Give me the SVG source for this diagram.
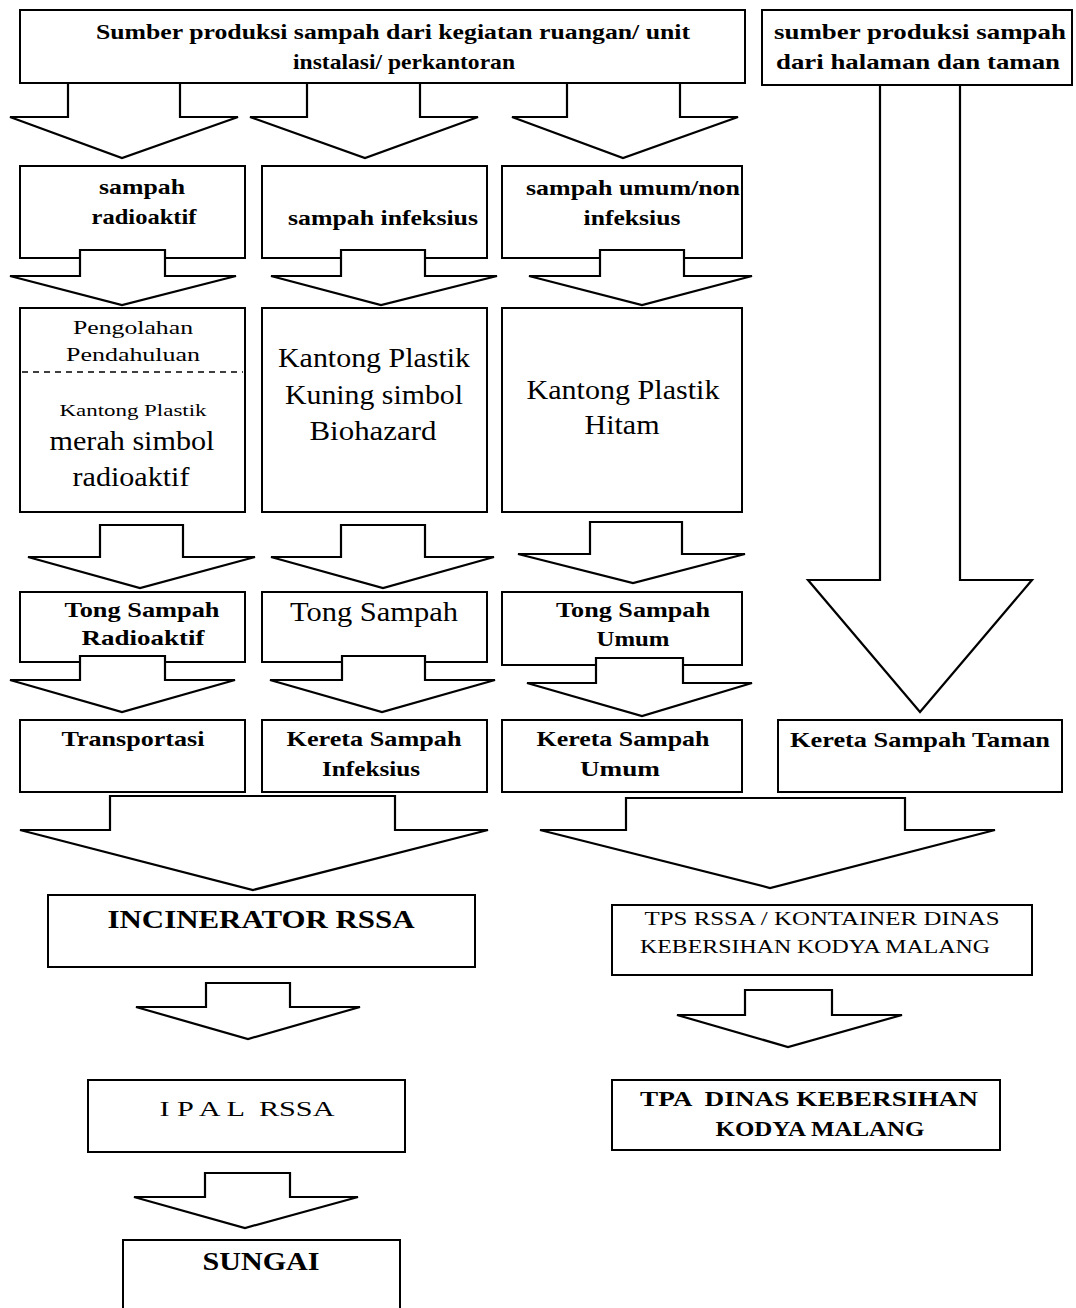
<svg xmlns="http://www.w3.org/2000/svg" width="1076" height="1308" viewBox="0 0 1076 1308">
<style>
.bg{fill:#fff}
.box{fill:#fff;stroke:#000;stroke-width:2}
.arr{fill:#fff;stroke:#000;stroke-width:2.2;stroke-linejoin:miter}
text{font-family:"Liberation Serif","Times New Roman",serif;fill:#000;text-anchor:middle}
.b{font-weight:bold}
</style>
<rect class="bg" x="0" y="0" width="1076" height="1308"/>
<g id="src-unit"><rect class="box" x="20" y="10" width="725" height="73"/>
<text class="b" x="393" y="39" font-size="22" textLength="594" lengthAdjust="spacingAndGlyphs">Sumber produksi sampah dari kegiatan ruangan/ unit</text>
<text class="b" x="404" y="69" font-size="22" textLength="222" lengthAdjust="spacingAndGlyphs">instalasi/ perkantoran</text></g>
<g id="src-taman"><rect class="box" x="762" y="10" width="310" height="75"/>
<text class="b" x="920" y="39" font-size="22" textLength="292" lengthAdjust="spacingAndGlyphs">sumber produksi sampah</text>
<text class="b" x="918" y="69" font-size="22" textLength="284" lengthAdjust="spacingAndGlyphs">dari halaman dan taman</text></g>
<g id="radioaktif"><rect class="box" x="20" y="166" width="225" height="92"/>
<text class="b" x="142" y="194" font-size="21" textLength="86" lengthAdjust="spacingAndGlyphs">sampah</text>
<text class="b" x="144" y="224" font-size="21" textLength="105" lengthAdjust="spacingAndGlyphs">radioaktif</text></g>
<g id="infeksius"><rect class="box" x="262" y="166" width="225" height="92"/>
<text class="b" x="383" y="225" font-size="21" textLength="190" lengthAdjust="spacingAndGlyphs">sampah infeksius</text></g>
<g id="umum"><rect class="box" x="502" y="166" width="240" height="92"/>
<text class="b" x="633" y="195" font-size="21" textLength="214" lengthAdjust="spacingAndGlyphs">sampah umum/non</text>
<text class="b" x="632" y="225" font-size="21" textLength="97" lengthAdjust="spacingAndGlyphs">infeksius</text></g>
<g id="kantong-merah"><rect class="box" x="20" y="308" width="225" height="204"/>
<text x="133" y="334" font-size="19" textLength="120" lengthAdjust="spacingAndGlyphs">Pengolahan</text>
<text x="133" y="361" font-size="19" textLength="134" lengthAdjust="spacingAndGlyphs">Pendahuluan</text>
<line x1="22" y1="372" x2="243" y2="372" stroke="#000" stroke-width="1.5" stroke-dasharray="6 5"/>
<text x="133" y="416" font-size="16" textLength="147" lengthAdjust="spacingAndGlyphs">Kantong Plastik</text>
<text x="132" y="450" font-size="27" textLength="165" lengthAdjust="spacingAndGlyphs">merah simbol</text>
<text x="131" y="486" font-size="27" textLength="117" lengthAdjust="spacingAndGlyphs">radioaktif</text></g>
<g id="kantong-kuning"><rect class="box" x="262" y="308" width="225" height="204"/>
<text x="374" y="367" font-size="27" textLength="192" lengthAdjust="spacingAndGlyphs">Kantong Plastik</text>
<text x="374" y="404" font-size="27" textLength="178" lengthAdjust="spacingAndGlyphs">Kuning simbol</text>
<text x="373" y="440" font-size="27" textLength="127" lengthAdjust="spacingAndGlyphs">Biohazard</text></g>
<g id="kantong-hitam"><rect class="box" x="502" y="308" width="240" height="204"/>
<text x="623" y="399" font-size="27" textLength="193" lengthAdjust="spacingAndGlyphs">Kantong Plastik</text>
<text x="622" y="434" font-size="27" textLength="75" lengthAdjust="spacingAndGlyphs">Hitam</text></g>
<g id="tong-radioaktif"><rect class="box" x="20" y="592" width="225" height="70"/>
<text class="b" x="142" y="617" font-size="21" textLength="155" lengthAdjust="spacingAndGlyphs">Tong Sampah</text>
<text class="b" x="143" y="645" font-size="21" textLength="123" lengthAdjust="spacingAndGlyphs">Radioaktif</text></g>
<g id="tong-infeksius"><rect class="box" x="262" y="592" width="225" height="70"/>
<text x="374" y="621" font-size="27" textLength="168" lengthAdjust="spacingAndGlyphs">Tong Sampah</text></g>
<g id="tong-umum"><rect class="box" x="502" y="592" width="240" height="73"/>
<text class="b" x="633" y="617" font-size="21" textLength="154" lengthAdjust="spacingAndGlyphs">Tong Sampah</text>
<text class="b" x="633" y="646" font-size="21" textLength="73" lengthAdjust="spacingAndGlyphs">Umum</text></g>
<g id="transportasi"><rect class="box" x="20" y="720" width="225" height="72"/>
<text class="b" x="133" y="746" font-size="21" textLength="143" lengthAdjust="spacingAndGlyphs">Transportasi</text></g>
<g id="kereta-infeksius"><rect class="box" x="262" y="720" width="225" height="72"/>
<text class="b" x="374" y="746" font-size="21" textLength="175" lengthAdjust="spacingAndGlyphs">Kereta Sampah</text>
<text class="b" x="371" y="776" font-size="21" textLength="98" lengthAdjust="spacingAndGlyphs">Infeksius</text></g>
<g id="kereta-umum"><rect class="box" x="502" y="720" width="240" height="72"/>
<text class="b" x="623" y="746" font-size="21" textLength="173" lengthAdjust="spacingAndGlyphs">Kereta Sampah</text>
<text class="b" x="620" y="776" font-size="21" textLength="80" lengthAdjust="spacingAndGlyphs">Umum</text></g>
<g id="kereta-taman"><rect class="box" x="778" y="720" width="284" height="72"/>
<text class="b" x="920" y="747" font-size="21" textLength="260" lengthAdjust="spacingAndGlyphs">Kereta Sampah Taman</text></g>
<g id="incinerator"><rect class="box" x="48" y="895" width="427" height="72"/>
<text class="b" x="261" y="928" font-size="26" textLength="307" lengthAdjust="spacingAndGlyphs">INCINERATOR RSSA</text></g>
<g id="tps"><rect class="box" x="612" y="905" width="420" height="70"/>
<text x="822" y="925" font-size="19" textLength="355" lengthAdjust="spacingAndGlyphs">TPS RSSA / KONTAINER DINAS</text>
<text x="815" y="953" font-size="19" textLength="350" lengthAdjust="spacingAndGlyphs">KEBERSIHAN KODYA MALANG</text></g>
<g id="ipal"><rect class="box" x="88" y="1080" width="317" height="72"/>
<text x="247" y="1116" font-size="20" textLength="175" lengthAdjust="spacingAndGlyphs" xml:space="preserve">I P A L  RSSA</text></g>
<g id="tpa"><rect class="box" x="612" y="1080" width="388" height="70"/>
<text class="b" x="809" y="1106" font-size="20" textLength="338" lengthAdjust="spacingAndGlyphs" xml:space="preserve">TPA  DINAS KEBERSIHAN</text>
<text class="b" x="820" y="1136" font-size="20" textLength="209" lengthAdjust="spacingAndGlyphs">KODYA MALANG</text></g>
<g id="sungai"><rect class="box" x="123" y="1240" width="277" height="80"/>
<text class="b" x="261" y="1270" font-size="25" textLength="117" lengthAdjust="spacingAndGlyphs">SUNGAI</text></g>
<g id="connectors">
<polygon class="arr" points="68,83 180,83 180,117 238,117 122,158 10,117 68,117"/>
<polygon class="arr" points="307,83 420,83 420,117 478,117 365,158 250,117 307,117"/>
<polygon class="arr" points="567,83 680,83 680,117 738,117 623,158 512,117 567,117"/>
<polygon class="arr" points="880,85 960,85 960,580 1032,580 920,712 808,580 880,580"/>
<polygon class="arr" points="80,250 165,250 165,276 236,276 122,305 10,276 80,276"/>
<polygon class="arr" points="341,250 425,250 425,276 497,276 381,305 271,276 341,276"/>
<polygon class="arr" points="600,250 684,250 684,276 752,276 642,305 529,276 600,276"/>
<polygon class="arr" points="100,525 183,525 183,557 255,557 140,588 28,557 100,557"/>
<polygon class="arr" points="341,525 425,525 425,557 494,557 383,588 271,557 341,557"/>
<polygon class="arr" points="590,522 682,522 682,554 745,554 633,583 518,554 590,554"/>
<polygon class="arr" points="80,656 165,656 165,680 235,680 122,712 10,680 80,680"/>
<polygon class="arr" points="342,656 425,656 425,680 495,680 382,712 270,680 342,680"/>
<polygon class="arr" points="596,658 683,658 683,683 752,683 642,716 527,683 596,683"/>
<polygon class="arr" points="110,796 395,796 395,830 488,830 253,890 20,830 110,830"/>
<polygon class="arr" points="626,798 905,798 905,830 995,830 770,888 540,830 626,830"/>
<polygon class="arr" points="206,983 290,983 290,1007 360,1007 248,1039 136,1007 206,1007"/>
<polygon class="arr" points="745,990 832,990 832,1015 902,1015 788,1047 677,1015 745,1015"/>
<polygon class="arr" points="205,1173 290,1173 290,1197 358,1197 245,1228 134,1197 205,1197"/>
</g>
</svg>
